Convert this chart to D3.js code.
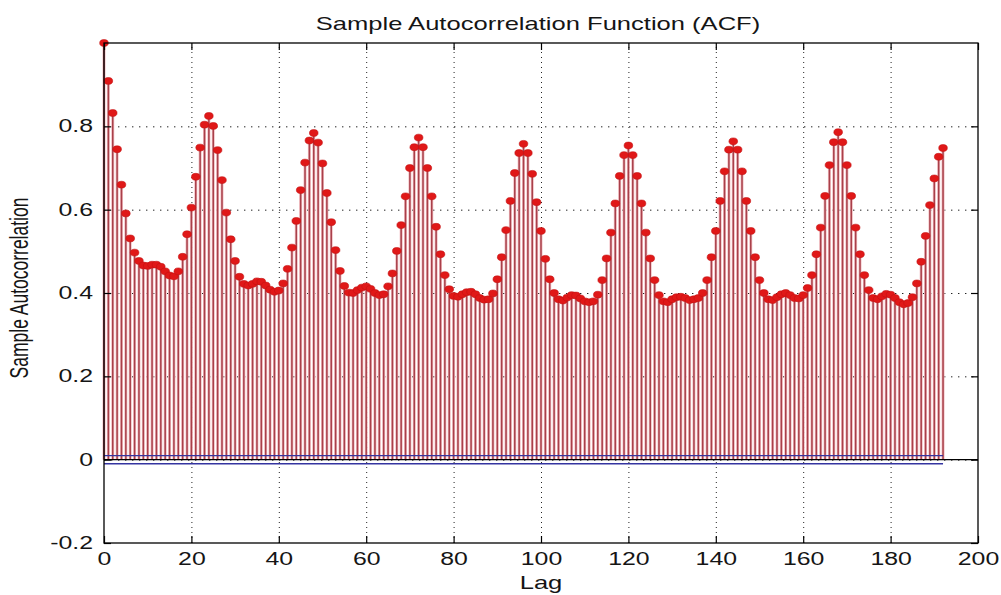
<!DOCTYPE html>
<html>
<head>
<meta charset="utf-8">
<script src="https://cdn.jsdelivr.net/npm/d3@7"></script>
<style>
body { margin: 0; background: #fff; }
text { font-family: "Liberation Sans", Arial, sans-serif; fill: #151515; }
</style>
</head>
<body>
<div id="chart"></div>
<script>
"use strict";
(function() {

const WIDTH = 1001
const HEIGHT = 595

const margin = { top:43, bottom:52, left:104, right:23 }

// the picture is stretched sideways, so text gets the same stretch
const SX = 1.42
const FONT = 17.5

const STEM = "#a8404a"
const STEM_HALO = "#f2bcc0"
const MARKER = "#e01818"
const BOUND_COLOR = "#3434a0"

const TITLE = "Sample Autocorrelation Function (ACF)"
const X_LABEL = "Lag"
const Y_LABEL = "Sample Autocorrelation"

const xTicks = [0, 20, 40, 60, 80, 100, 120, 140, 160, 180, 200]
const yTicks = [-0.2, 0, 0.2, 0.4, 0.6, 0.8]

// approximate 95% confidence bounds
const bounds = [0.0098, -0.0098]

// sample autocorrelation, lags 0..192 (24 per two rows)
const acf = [
    1.000, 0.909, 0.832, 0.745, 0.660, 0.591, 0.531, 0.497, 0.477, 0.466, 0.465, 0.468,
    0.468, 0.463, 0.452, 0.442, 0.440, 0.452, 0.487, 0.541, 0.605, 0.679, 0.749, 0.804,
    0.825, 0.801, 0.743, 0.671, 0.593, 0.529, 0.477, 0.439, 0.422, 0.418, 0.422, 0.428,
    0.427, 0.418, 0.408, 0.403, 0.406, 0.423, 0.458, 0.509, 0.573, 0.647, 0.713, 0.766,
    0.784, 0.761, 0.711, 0.640, 0.570, 0.503, 0.453, 0.417, 0.401, 0.400, 0.407, 0.413,
    0.416, 0.410, 0.400, 0.395, 0.397, 0.416, 0.447, 0.501, 0.563, 0.632, 0.700, 0.750,
    0.773, 0.750, 0.700, 0.632, 0.559, 0.493, 0.443, 0.409, 0.393, 0.391, 0.397, 0.402,
    0.403, 0.397, 0.388, 0.384, 0.385, 0.399, 0.433, 0.486, 0.551, 0.621, 0.688, 0.736,
    0.758, 0.736, 0.686, 0.618, 0.549, 0.482, 0.433, 0.400, 0.385, 0.382, 0.389, 0.395,
    0.394, 0.387, 0.380, 0.378, 0.380, 0.396, 0.431, 0.483, 0.545, 0.615, 0.681, 0.731,
    0.754, 0.731, 0.681, 0.615, 0.545, 0.483, 0.431, 0.395, 0.380, 0.378, 0.385, 0.390,
    0.391, 0.388, 0.383, 0.385, 0.388, 0.400, 0.431, 0.486, 0.549, 0.621, 0.692, 0.744,
    0.764, 0.744, 0.692, 0.621, 0.549, 0.486, 0.431, 0.400, 0.385, 0.383, 0.390, 0.397,
    0.400, 0.395, 0.388, 0.387, 0.395, 0.412, 0.443, 0.493, 0.557, 0.633, 0.707, 0.762,
    0.786, 0.762, 0.707, 0.633, 0.557, 0.493, 0.443, 0.407, 0.388, 0.385, 0.392, 0.398,
    0.396, 0.388, 0.378, 0.373, 0.376, 0.390, 0.423, 0.475, 0.537, 0.611, 0.675, 0.727,
    0.748
]

const data = acf.map((v, i) => ({ lag: i, value: v }))
const maxLag = data.length - 1

let x_scale = d3.scaleLinear().domain([0, 200]).range([margin.left, WIDTH - margin.right])
let y_scale = d3.scaleLinear().domain([-0.2, 1]).range([HEIGHT - margin.bottom, margin.top])

const plotW = x_scale.range()[1] - x_scale.range()[0]
const plotH = y_scale.range()[0] - y_scale.range()[1]

var svg = d3.select("#chart").append("svg")
    .attr("width", WIDTH)
    .attr("height", HEIGHT)

// dotted grid
svg.append("g")
    .attr("transform", `translate(0, ${y_scale(-0.2)})`)
    .call(d3.axisBottom(x_scale).tickValues(xTicks.slice(1, -1)).tickSize(-plotH).tickFormat(""))
    .call(g => g.select(".domain").remove())
    .selectAll("line")
    .attr("stroke", "#222")
    .attr("stroke-dasharray", "1,4")

svg.append("g")
    .attr("transform", `translate(${x_scale(0)}, 0)`)
    .call(d3.axisLeft(y_scale).tickValues(yTicks.slice(1)).tickSize(-plotW).tickFormat(""))
    .call(g => g.select(".domain").remove())
    .selectAll("line")
    .attr("stroke", "#222")
    .attr("stroke-dasharray", "1.4,5.6")

// stems (a soft halo then the darker line)
svg.append("g").selectAll("line")
    .data(data)
    .join("line")
    .attr("x1", d => x_scale(d.lag))
    .attr("x2", d => x_scale(d.lag))
    .attr("y1", y_scale(0))
    .attr("y2", d => y_scale(d.value))
    .attr("stroke", STEM_HALO)
    .attr("stroke-width", 3)

svg.append("g").selectAll("line")
    .data(data)
    .join("line")
    .attr("x1", d => x_scale(d.lag))
    .attr("x2", d => x_scale(d.lag))
    .attr("y1", y_scale(0))
    .attr("y2", d => y_scale(d.value))
    .attr("stroke", STEM)
    .attr("stroke-width", 1.5)

// baseline at zero
svg.append("line")
    .attr("x1", x_scale(0))
    .attr("x2", x_scale(200))
    .attr("y1", y_scale(0))
    .attr("y2", y_scale(0))
    .attr("stroke", "#000")
    .attr("stroke-width", 1.2)

// confidence bounds
svg.append("g").selectAll("line")
    .data(bounds)
    .join("line")
    .attr("x1", x_scale(0))
    .attr("x2", x_scale(maxLag))
    .attr("y1", d => y_scale(d))
    .attr("y2", d => y_scale(d))
    .attr("stroke", BOUND_COLOR)
    .attr("stroke-width", 1.3)

// markers
svg.append("g").selectAll("ellipse")
    .data(data)
    .join("ellipse")
    .attr("cx", d => x_scale(d.lag))
    .attr("cy", d => y_scale(d.value))
    .attr("rx", 4.3)
    .attr("ry", 3.4)
    .attr("fill", MARKER)
    .attr("stroke", "#c41010")
    .attr("stroke-width", 0.6)

// axes with inward ticks on all four sides
let xAxis = svg.append("g")
    .attr("transform", `translate(0, ${y_scale(-0.2)})`)
    .call(d3.axisBottom(x_scale).tickValues(xTicks).tickSize(-7).tickPadding(10).tickSizeOuter(0))
xAxis.selectAll("text")
    .attr("transform", `scale(${SX},1)`)
    .style("font-size", FONT + "px")

let yAxis = svg.append("g")
    .attr("transform", `translate(${x_scale(0)}, 0)`)
    .call(d3.axisLeft(y_scale).tickValues(yTicks).tickSize(-7).tickPadding(7.7).tickSizeOuter(0)
        .tickFormat(d => String(d)))
yAxis.selectAll("text")
    .attr("transform", `scale(${SX},1)`)
    .style("font-size", FONT + "px")

svg.append("g")
    .attr("transform", `translate(0, ${y_scale(1)})`)
    .call(d3.axisTop(x_scale).tickValues(xTicks).tickSize(-7).tickFormat("").tickSizeOuter(0))

svg.append("g")
    .attr("transform", `translate(${x_scale(200)}, 0)`)
    .call(d3.axisRight(y_scale).tickValues(yTicks).tickSize(-7).tickFormat("").tickSizeOuter(0))

svg.selectAll(".domain").remove()
svg.selectAll(".tick line").filter(function() { return !this.getAttribute("stroke-dasharray") })
    .attr("stroke", "#000")
    .attr("stroke-width", 1.2)

svg.append("rect")
    .attr("x", x_scale(0))
    .attr("y", y_scale(1))
    .attr("width", plotW)
    .attr("height", plotH)
    .attr("fill", "none")
    .attr("stroke", "#000")
    .attr("stroke-width", 1.3)

// title and axis labels
svg.append("text")
    .attr("transform", `translate(${x_scale(100) - 3}, 30) scale(${SX},1)`)
    .attr("text-anchor", "middle")
    .style("font-size", "18px")
    .text(TITLE)

svg.append("text")
    .attr("transform", `translate(${x_scale(100)}, 589) scale(${SX},1)`)
    .attr("text-anchor", "middle")
    .style("font-size", "18px")
    .text(X_LABEL)

svg.append("text")
    .attr("transform", `translate(28, ${(y_scale(-0.2) + y_scale(1)) / 2 - 5}) scale(${SX},1) rotate(-90)`)
    .attr("text-anchor", "middle")
    .style("font-size", FONT + "px")
    .text(Y_LABEL)

})();
</script>
</body>
</html>
